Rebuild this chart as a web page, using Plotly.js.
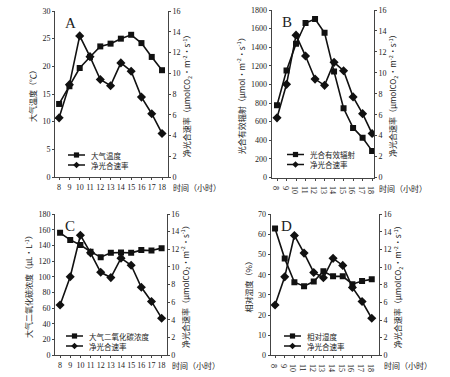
<!DOCTYPE html>
<html><head><meta charset="utf-8">
<script src="https://cdn.plot.ly/plotly-3.0.1.min.js"></script>
<style>body{margin:0;background:#fff}#c{width:450px;height:377px}</style>
</head><body><div id="c"></div>
<script>
const hours = [8, 9, 10, 11, 12, 13, 14, 15, 16, 17, 18];
const netPhoto = [5.7, 8.9, 13.6, 11.6, 9.4, 8.8, 11.0, 10.2, 7.7, 6.1, 4.2];
const airTemp = [13.2, 16.4, 19.7, 21.7, 23.6, 24.1, 25.0, 25.7, 24.2, 21.7, 19.3];
const par = [776, 1149, 1438, 1660, 1703, 1556, 1138, 744, 533, 426, 286];
const co2 = [156, 147, 140.5, 132, 125, 130.5, 131, 130.5, 134, 133.5, 136.5];
const rh = [62.9, 48, 36.3, 34.3, 36.6, 41.7, 39.2, 39.2, 35.3, 36.9, 37.7];

const panelLetters = ['A', 'B', 'C', 'D'];
const leftNames = ['大气温度', '光合有效辐射', '大气二氧化碳浓度', '相对湿度'];
const rightName = '净光合速率';
const leftTitles = ['大气温度（℃）', '光合有效辐射（μmol·m<sup>-2</sup>·s<sup>-1</sup>）', '大气二氧化碳浓度（μL·L<sup>-1</sup>）', '相对湿度（%）'];
const rightTitle = '净光合速率（μmolCO<sub>2</sub>·m<sup>-2</sup>·s<sup>-1</sup>）';
const xTitle = '时间（小时）';
const leftData = [airTemp, par, co2, rh];
const leftRanges = [[0, 30], [0, 1800], [0, 180], [0, 70]];
const leftDtick = [5, 200, 20, 10];

const W = 450, H = 377;
// pixel boxes [left, right, top, bottom]
const boxes = [[55, 168, 11, 177], [271.5, 374, 10, 177.5], [55, 166.7, 214, 355.3], [270.7, 379, 214.3, 355.3]];
const xRanges = [[7.6, 18.58], [7.42, 18.2], [7.5, 18.5], [7.55, 18.75]];
// legend placement [lineStart px, row1 y px, row spacing]
const legPos = [[68, 155, 10], [287, 154.5, 10], [66, 336, 10], [284, 336, 10]];

const FONT = 'Liberation Serif, Noto Sans CJK SC, serif';
const CJK = 'Noto Sans CJK SC, Liberation Serif, sans-serif';
const traces = [];
const layout = {
  width: W, height: H, margin: {l: 0, r: 0, t: 0, b: 0},
  paper_bgcolor: '#fff', plot_bgcolor: '#fff',
  font: {family: FONT, size: 8, color: '#222'},
  annotations: [], shapes: [], showlegend: false
};
const px = v => v / W, py = v => 1 - v / H;
function legendRow(x0, y, sym, label) {
  layout.shapes.push({type: 'line', xref: 'paper', yref: 'paper', x0: px(x0), x1: px(x0 + 17), y0: py(y), y1: py(y),
    line: {color: '#111', width: 1.5}});
  const cx = x0 + 8.5;
  if (sym === 'square') {
    layout.shapes.push({type: 'rect', xref: 'paper', yref: 'paper', x0: px(cx - 2.6), x1: px(cx + 2.6), y0: py(y - 2.6), y1: py(y + 2.6),
      fillcolor: '#111', line: {width: 0}});
  } else {
    const p = `M${px(cx)},${py(y - 3.3)} L${px(cx + 3.3)},${py(y)} L${px(cx)},${py(y + 3.3)} L${px(cx - 3.3)},${py(y)} Z`;
    layout.shapes.push({type: 'path', xref: 'paper', yref: 'paper', path: p, fillcolor: '#111', line: {width: 0}});
  }
  layout.annotations.push({xref: 'paper', yref: 'paper', x: px(x0 + 22), y: py(y), xanchor: 'left', yanchor: 'middle',
    text: label, showarrow: false, borderpad: 0, font: {size: 7.5, family: CJK, color: '#222'}});
}
for (let i = 0; i < 4; i++) {
  const b = boxes[i];
  const xd = [b[0] / W, b[1] / W];
  const yd = [1 - b[3] / H, 1 - b[2] / H];
  const xn = i + 1, yl = 2 * i + 1, yr = 2 * i + 2;
  const xk = 'xaxis' + (xn === 1 ? '' : xn);
  const ylk = 'yaxis' + (yl === 1 ? '' : yl);
  const yrk = 'yaxis' + yr;
  layout[xk] = {domain: xd, range: xRanges[i], anchor: 'y' + (yl === 1 ? '' : yl), tickvals: hours,
    showline: true, linecolor: '#444', linewidth: 1, ticks: 'outside', ticklen: 2, tickcolor: '#444',
    showgrid: false, zeroline: false, tickfont: {size: 8, family: FONT}, fixedrange: true};
  layout[ylk] = {domain: yd, range: leftRanges[i], dtick: leftDtick[i], anchor: 'x' + (xn === 1 ? '' : xn),
    showline: true, linecolor: '#444', linewidth: 1, ticks: 'outside', ticklen: 2, tickcolor: '#444',
    showgrid: false, zeroline: false, tickfont: {size: 8, family: FONT},
    title: {text: leftTitles[i], font: {size: 8, family: CJK}, standoff: 4}};
  layout[yrk] = {domain: yd, range: [0, 16], dtick: 2, overlaying: 'y' + (yl === 1 ? '' : yl), side: 'right',
    anchor: 'x' + (xn === 1 ? '' : xn),
    showline: true, linecolor: '#444', linewidth: 1, ticks: 'outside', ticklen: 2, tickcolor: '#444',
    showgrid: false, zeroline: false, tickfont: {size: 8, family: FONT},
    title: {text: rightTitle, font: {size: 8, family: CJK}, standoff: 4}};
  const xa = 'x' + (xn === 1 ? '' : xn);
  traces.push({x: hours, y: leftData[i], xaxis: xa, yaxis: 'y' + (yl === 1 ? '' : yl), name: leftNames[i],
    mode: 'lines+markers', line: {color: '#111', width: 1.6}, marker: {symbol: 'square', size: 6, color: '#111'}});
  traces.push({x: hours, y: netPhoto, xaxis: xa, yaxis: 'y' + yr, name: rightName,
    mode: 'lines+markers', line: {color: '#111', width: 1.6}, marker: {symbol: 'diamond', size: 7, color: '#111'}});
  layout.annotations.push({xref: 'paper', yref: 'paper', x: (b[0] + 8) / W, y: 1 - (b[2] + 2) / H,
    xanchor: 'left', yanchor: 'top', text: panelLetters[i], showarrow: false,
    font: {size: 15, family: 'Liberation Serif, serif', color: '#222'}});
  layout.annotations.push({xref: 'paper', yref: 'paper', x: (b[1] + 3) / W, y: 1 - (b[3] + 3) / H,
    xanchor: 'left', yanchor: 'top', text: xTitle, showarrow: false,
    font: {size: 8, family: CJK, color: '#222'}});
  const lp = legPos[i];
  legendRow(lp[0], lp[1], 'square', leftNames[i]);
  legendRow(lp[0], lp[1] + lp[2], 'diamond', rightName);
}
Plotly.newPlot('c', traces, layout, {displayModeBar: false, staticPlot: true});
</script></body></html>
